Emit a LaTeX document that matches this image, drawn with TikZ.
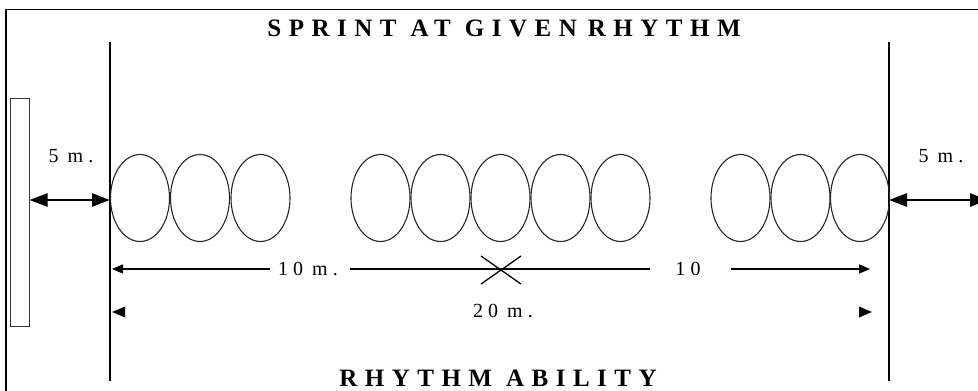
\documentclass[tikz,border=0pt]{standalone}
\usepackage{fontspec}
\setmainfont{Liberation Serif}
\usetikzlibrary{arrows.meta,shapes.geometric}
\begin{document}
\begin{tikzpicture}[x=1pt,y=-1pt,
  oval/.style={draw=black!85, line width=1.1pt, ellipse, minimum width=59pt, minimum height=87pt, inner sep=0pt},
  bar/.style={line width=2.8pt},
  frame/.style={line width=1.4pt},
  bigarrow/.style={line width=2.6pt, {Triangle[length=18pt,width=13pt]}-{Triangle[length=18pt,width=13pt]}},
  dim/.style={line width=1.3pt},
  dimtip/.style={-{Triangle[length=11pt,width=9pt]}},
  title/.style={font=\fontsize{25}{28}\selectfont\bfseries\addfontfeature{LetterSpace=30}, inner sep=0pt},
  lbl/.style={font=\fontsize{20}{23}\selectfont\addfontfeature{LetterSpace=26}, inner sep=0pt},
  tick/.style={fill=black, draw=none}]
\clip (0,0) rectangle (978,391);
\fill[white] (0,0) rectangle (978,391);
% frame
\draw[frame] (6,391) -- (6,9.5) -- (978,9.5);
% wall
\node[draw=black!80, line width=1pt, minimum width=19pt, minimum height=228pt, inner sep=0pt] (wall) at (19.5,212) {};
% bars
\coordinate (lt) at (110,42); \coordinate (lb) at (110,381);
\coordinate (rt) at (889,42); \coordinate (rb) at (889,381);
\draw[bar] (lt) -- (lb);
\draw[bar] (rt) -- (rb);
% titles
\node[title] (t1) at (504,28) {SPRINT\hspace{14pt}AT\hspace{14pt}GIVEN\hspace{11pt}RHYTHM};
\node[title] (t2) at (498,378) {RHYTHM\hspace{14pt}ABILITY};
% ovals
\foreach \n/\x in {1/140,2/200,3/260.5,4/380.5,5/440.5,6/500.5,7/560.5,8/620.5,9/740.5,10/800.5,11/860}
  \node[oval] (e\n) at (\x,198) {};
% 5 m arrows
\coordinate (la) at (110,200);
\coordinate (ra) at (889,200);
\coordinate (rend) at (988,200);
\draw[bigarrow] (wall.east |- la) -- (la);
\draw[bigarrow] (ra) -- (rend);
\node[lbl] (l5) at (71,156) {5\hspace{9pt}m.};
\node[lbl] (r5) at (941,156) {5\hspace{9pt}m.};
% dimension line
\coordinate (d0) at (112,269);
\coordinate (d1) at (870,269);
\node[lbl] (d10a) at (308,269) {10\hspace{9pt}m.};
\node[lbl] (d10b) at (688,269) {10};
\draw[dim,dimtip] (270,269) -- (d0);
\draw[dim] (350,269) -- (650,269);
\draw[dim,dimtip] (731,269) -- (d1);
% X mark
\coordinate (xc) at (501,270);
\draw[line width=1.3pt] ([shift={(-20,-14)}]xc) -- ([shift={(20,14)}]xc);
\draw[line width=1.3pt] ([shift={(-20,14)}]xc) -- ([shift={(20,-14)}]xc);
% 20 m row
\node[lbl] (d20) at (503,311) {20\hspace{9pt}m.};
\coordinate (p0) at (112,312);
\coordinate (p1) at (872,312);
\fill[tick] (p0) -- ++(13,-5.5) -- ++(0,11) -- cycle;
\fill[tick] (p1) -- ++(-13,-5.5) -- ++(0,11) -- cycle;
\end{tikzpicture}
\end{document}
